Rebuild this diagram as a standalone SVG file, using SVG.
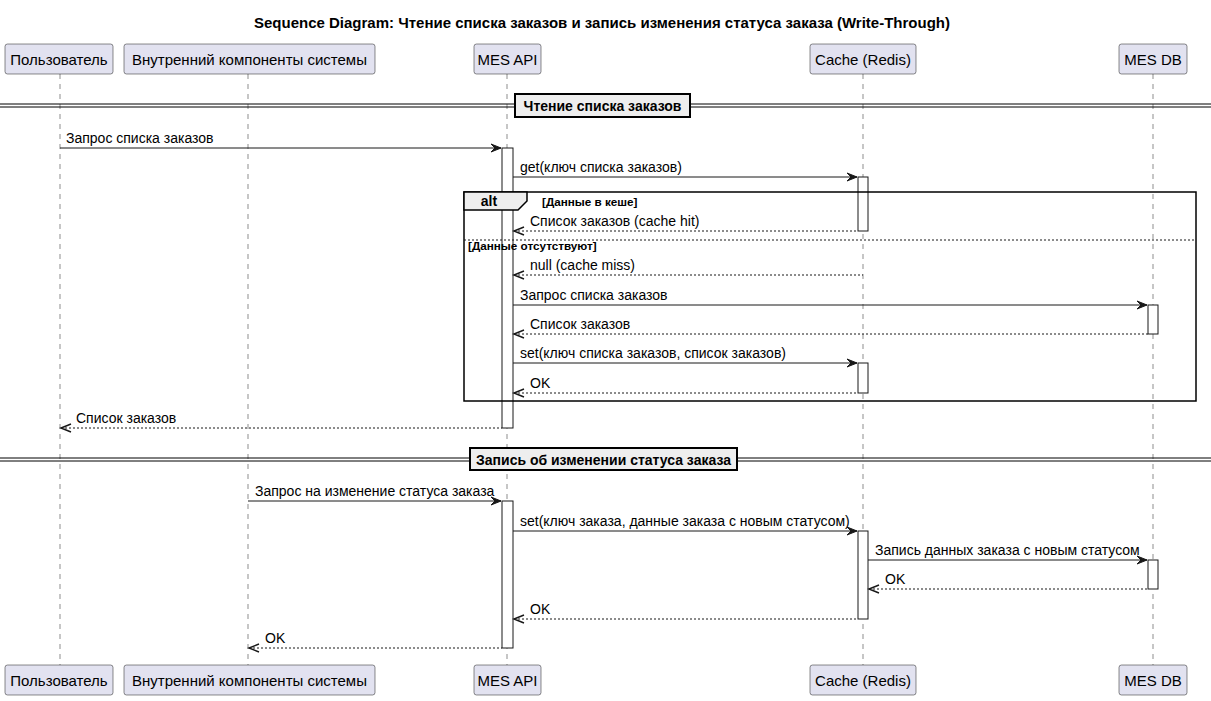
<svg xmlns="http://www.w3.org/2000/svg" width="1211" height="701" viewBox="0 0 1211 701">
<style>
text{font-family:"Liberation Sans",Arial,sans-serif;fill:#000}
.title{font-size:15px;font-weight:bold}
.pname{font-size:15px}
.msg{font-size:14px}
.sep{font-size:14px;font-weight:bold}
.guard{font-size:11.7px;font-weight:bold}
.part{fill:#E2E2F0;stroke:#181818;stroke-width:0.5}
.life{stroke:#181818;stroke-width:0.5;stroke-dasharray:5,5;fill:none}
.act{fill:#FFFFFF;stroke:#181818;stroke-width:1}
.line{stroke:#181818;stroke-width:1;fill:none}
.dash{stroke:#181818;stroke-width:1;fill:none;stroke-dasharray:2,2}
.head{fill:#181818;stroke:#181818;stroke-width:1}
.open{fill:none;stroke:#181818;stroke-width:1.5}
.dbl{stroke:#000;stroke-width:1;fill:none}
.sepbox{fill:#EEEEEE;stroke:#000;stroke-width:2}
.frame{fill:none;stroke:#000;stroke-width:1.5}
.tab{fill:#EEEEEE;stroke:#000;stroke-width:1.5}
</style>
<rect width="1211" height="701" fill="#FFFFFF"/>
<text class="title" x="602" y="28" text-anchor="middle">Sequence Diagram: Чтение списка заказов и запись изменения статуса заказа (Write-Through)</text>

<g id="lifelines">
<line class="life" x1="60" y1="74" x2="60" y2="665"/>
<line class="life" x1="248" y1="74" x2="248" y2="665"/>
<line class="life" x1="507" y1="74" x2="507" y2="665"/>
<line class="life" x1="863" y1="74" x2="863" y2="665"/>
<line class="life" x1="1153" y1="74" x2="1153" y2="665"/>
</g>

<g id="dividers">
<line class="dbl" x1="0" y1="104" x2="1211" y2="104"/>
<line class="dbl" x1="0" y1="107" x2="1211" y2="107"/>
<rect class="sepbox" x="515" y="94" width="175" height="23"/>
<text class="sep" x="602.5" y="110.5" text-anchor="middle">Чтение списка заказов</text>
<line class="dbl" x1="0" y1="458" x2="1211" y2="458"/>
<line class="dbl" x1="0" y1="461" x2="1211" y2="461"/>
<rect class="sepbox" x="470" y="448" width="267" height="22"/>
<text class="sep" x="603.5" y="464.5" text-anchor="middle">Запись об изменении статуса заказа</text>
</g>

<g id="participant-user">
<rect class="part" x="5" y="44" width="108" height="30" rx="2.5"/>
<text class="pname" x="59" y="64.5" text-anchor="middle">Пользователь</text>
<rect class="part" x="5" y="665" width="108" height="30" rx="2.5"/>
<text class="pname" x="59" y="685.5" text-anchor="middle">Пользователь</text>
</g>
<g id="participant-internal">
<rect class="part" x="124" y="44" width="251" height="30" rx="2.5"/>
<text class="pname" x="249.5" y="64.5" text-anchor="middle">Внутренний компоненты системы</text>
<rect class="part" x="124" y="665" width="251" height="30" rx="2.5"/>
<text class="pname" x="249.5" y="685.5" text-anchor="middle">Внутренний компоненты системы</text>
</g>
<g id="participant-api">
<rect class="part" x="474" y="44" width="67" height="30" rx="2.5"/>
<text class="pname" x="507.5" y="64.5" text-anchor="middle">MES API</text>
<rect class="part" x="474" y="665" width="67" height="30" rx="2.5"/>
<text class="pname" x="507.5" y="685.5" text-anchor="middle">MES API</text>
</g>
<g id="participant-cache">
<rect class="part" x="810" y="44" width="106" height="30" rx="2.5"/>
<text class="pname" x="863" y="64.5" text-anchor="middle">Cache (Redis)</text>
<rect class="part" x="810" y="665" width="106" height="30" rx="2.5"/>
<text class="pname" x="863" y="685.5" text-anchor="middle">Cache (Redis)</text>
</g>
<g id="participant-db">
<rect class="part" x="1119" y="44" width="68" height="30" rx="2.5"/>
<text class="pname" x="1153" y="64.5" text-anchor="middle">MES DB</text>
<rect class="part" x="1119" y="665" width="68" height="30" rx="2.5"/>
<text class="pname" x="1153" y="685.5" text-anchor="middle">MES DB</text>
</g>

<g id="activations">
<rect class="act" x="502" y="148" width="11" height="280"/>
<rect class="act" x="858" y="177" width="10" height="54"/>
<rect class="act" x="1148" y="305" width="10" height="29"/>
<rect class="act" x="858" y="363" width="10" height="30"/>
<rect class="act" x="502" y="501" width="11" height="147"/>
<rect class="act" x="858" y="531" width="10" height="88"/>
<rect class="act" x="1148" y="560" width="10" height="29"/>
</g>

<g id="alt-frame">
<rect class="frame" x="464" y="192" width="732" height="209"/>
<path class="tab" d="M464,192 L527,192 L527,201 L518,210 L464,210 Z"/>
<text class="sep" x="489" y="206" text-anchor="middle">alt</text>
<text class="guard" x="542" y="206">[Данные в кеше]</text>
<line class="dash" x1="464" y1="240" x2="1196" y2="240"/>
<text class="guard" x="468" y="250">[Данные отсутствуют]</text>
</g>

<g id="connectors">
<line class="line" x1="60" y1="148" x2="501" y2="148"/>
<polygon class="head" points="491,144 501,148 491,152 495,148"/>
<text class="msg" x="66" y="143">Запрос списка заказов</text>

<line class="line" x1="513" y1="177" x2="857" y2="177"/>
<polygon class="head" points="847,173 857,177 847,181 851,177"/>
<text class="msg" x="520" y="172">get(ключ списка заказов)</text>

<line class="dash" x1="514" y1="231" x2="858" y2="231"/>
<polyline class="open" points="524,227 514,231 524,235"/>
<text class="msg" x="530" y="226">Список заказов (cache hit)</text>

<line class="dash" x1="514" y1="275" x2="863" y2="275"/>
<polyline class="open" points="524,271 514,275 524,279"/>
<text class="msg" x="530" y="270">null (cache miss)</text>

<line class="line" x1="513" y1="305" x2="1147" y2="305"/>
<polygon class="head" points="1137,301 1147,305 1137,309 1141,305"/>
<text class="msg" x="520" y="300">Запрос списка заказов</text>

<line class="dash" x1="514" y1="334" x2="1148" y2="334"/>
<polyline class="open" points="524,330 514,334 524,338"/>
<text class="msg" x="530" y="329">Список заказов</text>

<line class="line" x1="513" y1="363" x2="857" y2="363"/>
<polygon class="head" points="847,359 857,363 847,367 851,363"/>
<text class="msg" x="520" y="358">set(ключ списка заказов, список заказов)</text>

<line class="dash" x1="514" y1="393" x2="858" y2="393"/>
<polyline class="open" points="524,389 514,393 524,397"/>
<text class="msg" x="530" y="388">OK</text>

<line class="dash" x1="61" y1="428" x2="502" y2="428"/>
<polyline class="open" points="71,424 61,428 71,432"/>
<text class="msg" x="76" y="423">Список заказов</text>

<line class="line" x1="248" y1="501" x2="501" y2="501"/>
<polygon class="head" points="491,497 501,501 491,505 495,501"/>
<text class="msg" x="255" y="496">Запрос на изменение статуса заказа</text>

<line class="line" x1="513" y1="531" x2="857" y2="531"/>
<polygon class="head" points="847,527 857,531 847,535 851,531"/>
<text class="msg" x="520" y="526">set(ключ заказа, данные заказа с новым статусом)</text>

<line class="line" x1="868" y1="560" x2="1147" y2="560"/>
<polygon class="head" points="1137,556 1147,560 1137,564 1141,560"/>
<text class="msg" x="875" y="555">Запись данных заказа с новым статусом</text>

<line class="dash" x1="869" y1="589" x2="1148" y2="589"/>
<polyline class="open" points="879,585 869,589 879,593"/>
<text class="msg" x="885" y="584">OK</text>

<line class="dash" x1="514" y1="619" x2="858" y2="619"/>
<polyline class="open" points="524,615 514,619 524,623"/>
<text class="msg" x="530" y="614">OK</text>

<line class="dash" x1="249" y1="648" x2="502" y2="648"/>
<polyline class="open" points="259,644 249,648 259,652"/>
<text class="msg" x="265" y="643">OK</text>
</g>
</svg>
